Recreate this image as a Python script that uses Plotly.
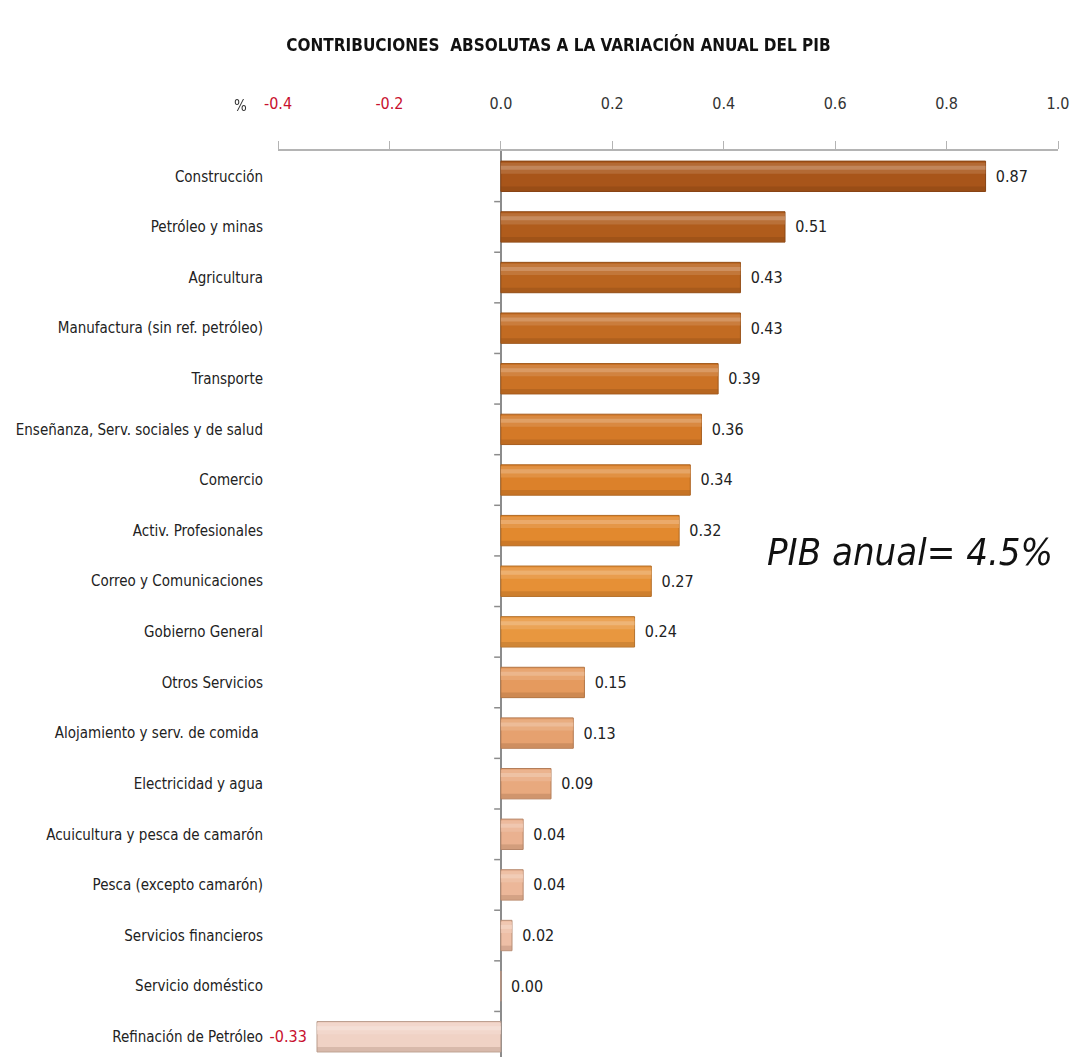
import plotly.graph_objects as go

# Contribuciones absolutas a la variación anual del PIB (puntos porcentuales)
sectores = [
    "Construcción", "Petróleo y minas", "Agricultura",
    "Manufactura (sin ref. petróleo)", "Transporte",
    "Enseñanza, Serv. sociales y de salud", "Comercio",
    "Activ. Profesionales", "Correo y Comunicaciones", "Gobierno General",
    "Otros Servicios", "Alojamiento y serv. de comida ",
    "Electricidad y agua", "Acuicultura y pesca de camarón",
    "Pesca (excepto camarón)", "Servicios financieros",
    "Servicio doméstico", "Refinación de Petróleo",
]
contribucion = [0.87, 0.51, 0.43, 0.43, 0.39, 0.36, 0.34, 0.32, 0.27, 0.24,
                0.15, 0.13, 0.09, 0.04, 0.04, 0.02, 0.00, -0.33]

tick_vals = [-0.4, -0.2, 0.0, 0.2, 0.4, 0.6, 0.8, 1.0]
tick_text = ["<span style='color:#C8102E'>-0.4</span>",
             "<span style='color:#C8102E'>-0.2</span>",
             "0.0", "0.2", "0.4", "0.6", "0.8", "1.0"]

# bar fill: dark burnt orange at the top fading to pale peach at the bottom
base_colors = ["#A8551A", "#B05C1C", "#B9641F", "#C26B22", "#CB7225",
               "#D47927", "#DC812A", "#E2892E", "#E69036", "#E8973F",
               "#E59A5E", "#E6A16F", "#E8A97E", "#EAB190", "#ECB799",
               "#EEBFA6", "#F0C8B5", "#F0D2C5"]


def mix(hex_color, other, t):
    a = [int(hex_color[i:i + 2], 16) for i in (1, 3, 5)]
    b = [int(other[i:i + 2], 16) for i in (1, 3, 5)]
    c = [round(x + (y - x) * t) for x, y in zip(a, b)]
    return "#%02X%02X%02X" % tuple(c)


light_colors = [mix(c, "#FFFFFF", 0.40) for c in base_colors]
mid_colors = [mix(c, "#FFFFFF", 0.18) for c in base_colors]
dark_colors = [mix(c, "#3A1A05", 0.30) for c in base_colors]
label_colors = ["#C8102E" if v < 0 else "#222222" for v in contribucion]
# keep a little air between each bar end and its value
value_text = [f"{v:.2f}\u2002" if v < 0 else f"\u2002{v:.2f}" for v in contribucion]

FONT = "DejaVu Sans Condensed, Liberation Sans Narrow, sans-serif"

fig = go.Figure()

# main bars with value labels
fig.add_trace(go.Bar(
    x=contribucion, y=sectores, orientation="h", width=0.6,
    marker=dict(color=base_colors, line=dict(color=dark_colors, width=1)),
    text=value_text, textposition="outside",
    textfont=dict(family=FONT, size=16, color=label_colors),
    cliponaxis=False, hoverinfo="skip",
))
# soft sheen across the upper half
fig.add_trace(go.Bar(
    x=contribucion, y=sectores, orientation="h", width=0.22, offset=-0.27,
    marker=dict(color=mid_colors, line=dict(width=0)), opacity=0.7,
    hoverinfo="skip",
))
# brighter highlight line inside the sheen
fig.add_trace(go.Bar(
    x=contribucion, y=sectores, orientation="h", width=0.08, offset=-0.21,
    marker=dict(color=light_colors, line=dict(width=0)), opacity=0.6,
    hoverinfo="skip",
))
# darker shade along the bottom edge
fig.add_trace(go.Bar(
    x=contribucion, y=sectores, orientation="h", width=0.09, offset=0.2,
    marker=dict(color=dark_colors, line=dict(width=0)), opacity=0.45,
    hoverinfo="skip",
))

# small tick marks on the zero axis, at category boundaries
shapes = []
for i in range(len(sectores)):
    shapes.append(dict(type="line", xref="x", yref="y",
                       x0=-0.012, x1=0, y0=i + 0.5, y1=i + 0.5,
                       line=dict(color="#8C8C8C", width=1.5)))

PLOT_W = 1074 - 278 - 16
PLOT_H = 1057 - 151

fig.update_layout(
    width=1074, height=1057,
    margin=dict(l=278, r=16, t=151, b=0),
    paper_bgcolor="white", plot_bgcolor="white",
    barmode="overlay", showlegend=False,
    shapes=shapes,
    title=dict(text="<b>CONTRIBUCIONES  ABSOLUTAS A LA VARIACIÓN ANUAL DEL PIB</b>",
               x=0.52, xanchor="center", y=1 - 45 / 1057, yanchor="middle",
               font=dict(family=FONT, size=17, color="#111111")),
    xaxis=dict(side="top", range=[-0.4, 1.0], tickvals=tick_vals,
               ticktext=tick_text, showgrid=False, automargin=False,
               showline=True, linecolor="#B4B4B4", linewidth=2,
               ticks="outside", ticklen=8, tickcolor="#B4B4B4",
               ticklabelstandoff=26,
               tickfont=dict(family=FONT, size=16, color="#333333"),
               zeroline=True, zerolinecolor="#8C8C8C", zerolinewidth=1.5),
    yaxis=dict(type="category", categoryorder="array", categoryarray=sectores,
               range=[17.4, -0.5], showgrid=False, showline=False,
               automargin=False, ticks="", ticklabelstandoff=14,
               tickfont=dict(family=FONT, size=15, color="#222222")),
    annotations=[
        dict(text="%", xref="paper", yref="paper",
             x=(240 - 278) / PLOT_W, y=1 + (151 - 106) / PLOT_H,
             xanchor="center", yanchor="middle",
             showarrow=False, font=dict(family=FONT, size=15, color="#333333")),
        dict(text="<i>PIB anual= 4.5%</i>", xref="paper", yref="paper",
             x=(910 - 278) / PLOT_W, y=1 - (552 - 151) / PLOT_H,
             xanchor="center", yanchor="middle", showarrow=False,
             font=dict(family=FONT, size=38, color="#111111")),
    ],
)

fig.write_html("out.html")
